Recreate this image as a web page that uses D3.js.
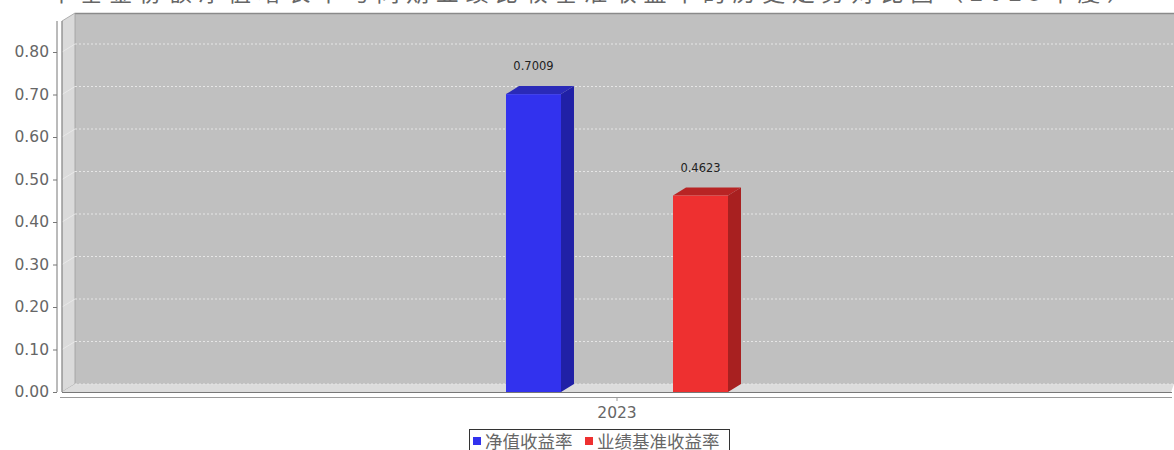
<!DOCTYPE html>
<html>
<head>
<meta charset="utf-8">
<script src="https://cdn.jsdelivr.net/npm/d3@7"></script>
<style>
	body{margin:0;background:#fff;overflow:hidden;}
	text{font-family:"DejaVu Sans", sans-serif;}
</style>
</head>
<body>
<div id="c-svg"></div>
<script>
//chart values
let chartTitle = "本基金份额净值增长率与同期业绩比较基准收益率的历史走势对比图（2023年度）";
let categories = ["2023"];
let seriesNames = ["净值收益率", "业绩基准收益率"];
let seriesValues = [0.7009, 0.4623];
let seriesColors = ["#3232ee", "#ee3030"];
let seriesSides = ["#2020a6", "#a82020"];
let seriesTops = ["#2a2ab8", "#b82424"];
let yTicks = [0, 0.1, 0.2, 0.3, 0.4, 0.5, 0.6, 0.7, 0.8];


function graph(){

	//sizing
	let width = 1174;
	let height = 450;
	let depth = {x:13, y:8};
	let margin = {top:21, right:13, bottom:58, left:62};

	let svg = d3.select("#c-svg")
		.append("svg")
		.attr("width", width)
		.attr("height", height);

	let left = margin.left;
	let right = width - margin.right;
	let bottom = height - margin.bottom;

	//scales
	const yScale = d3.scaleLinear()
		.domain([0, 0.8])
		.range([bottom, 52]);

	const xScale = d3.scaleBand()
		.domain(categories)
		.range([left, width - 2]);

	const xInner = d3.scaleBand()
		.domain(seriesNames)
		.range([-111, 111])
		.paddingInner(0.6707);

	//title (cut by the top of the picture)
	svg.append("text")
		.attr("x", 50)
		.attr("y", 0.5)
		.attr("textLength", 1080)
		.attr("lengthAdjust", "spacing")
		.style("font-family", "'Noto Sans CJK SC'")
		.style("font-size", "23px")
		.attr("fill", "#666")
		.text(chartTitle);

	//back wall
	svg.append("rect")
		.attr("x", left + depth.x)
		.attr("y", margin.top - depth.y)
		.attr("width", right - left)
		.attr("height", bottom - margin.top)
		.attr("fill", "#c0c0c0");

	svg.append("line")
		.attr("x1", left + depth.x).attr("x2", width)
		.attr("y1", margin.top - depth.y + 0.5).attr("y2", margin.top - depth.y + 0.5)
		.attr("stroke", "#8a8a8a")
		.attr("stroke-width", 1.5);

	//left wall & floor
	svg.append("polygon")
		.attr("points", [[left, margin.top], [left + depth.x, margin.top - depth.y],
			[left + depth.x, bottom - depth.y], [left, bottom]].join(" "))
		.attr("fill", "#dadada")
		.attr("stroke", "#a0a0a0")
		.attr("stroke-width", 0.8);

	svg.append("polygon")
		.attr("points", [[left, bottom], [left + depth.x, bottom - depth.y],
			[width, bottom - depth.y], [width - depth.x + 10, bottom]].join(" "))
		.attr("fill", "#dcdcdc");

	//grid lines
	let grid = svg.append("g").attr("class", "grid");

	grid.selectAll(".back")
		.data(yTicks.slice(1))
		.enter()
		.append("line")
		.attr("x1", left + depth.x)
		.attr("x2", width)
		.attr("y1", (d)=>{ return yScale(d) - depth.y; })
		.attr("y2", (d)=>{ return yScale(d) - depth.y; })
		.attr("stroke", "#e6e6e6")
		.attr("stroke-dasharray", "2,2");

	grid.selectAll(".side")
		.data(yTicks.slice(1))
		.enter()
		.append("line")
		.attr("x1", left)
		.attr("x2", left + depth.x)
		.attr("y1", (d)=>{ return yScale(d); })
		.attr("y2", (d)=>{ return yScale(d) - depth.y; })
		.attr("stroke", "#eeeeee")
		.attr("stroke-width", 0.7);

	svg.append("line")
		.attr("x1", left + depth.x).attr("x2", width)
		.attr("y1", bottom - depth.y).attr("y2", bottom - depth.y)
		.attr("stroke", "#e6e6e6")
		.attr("stroke-dasharray", "2,2");

	//bars
	let cx = xScale(categories[0]) + xScale.bandwidth() / 2;
	let bw = xInner.bandwidth();

	let bars = svg.selectAll(".bar")
		.data(seriesValues)
		.enter()
		.append("g")
		.attr("class", "bar");

	bars.append("polygon")
		.attr("points", (d, i)=>{
			let x0 = cx + xInner(seriesNames[i]) + bw;
			return [[x0, yScale(d)], [x0 + depth.x, yScale(d) - depth.y],
				[x0 + depth.x, bottom - depth.y], [x0, bottom]].join(" ");
		})
		.attr("fill", (d, i)=>{ return seriesSides[i]; });

	bars.append("polygon")
		.attr("points", (d, i)=>{
			let x0 = cx + xInner(seriesNames[i]);
			return [[x0, yScale(d)], [x0 + depth.x, yScale(d) - depth.y],
				[x0 + bw + depth.x, yScale(d) - depth.y], [x0 + bw, yScale(d)]].join(" ");
		})
		.attr("fill", (d, i)=>{ return seriesTops[i]; });

	bars.append("rect")
		.attr("x", (d, i)=>{ return cx + xInner(seriesNames[i]); })
		.attr("y", (d)=>{ return yScale(d); })
		.attr("width", bw)
		.attr("height", (d)=>{ return bottom - yScale(d); })
		.attr("fill", (d, i)=>{ return seriesColors[i]; });

	bars.append("text")
		.attr("x", (d, i)=>{ return cx + xInner(seriesNames[i]) + bw / 2; })
		.attr("y", (d)=>{ return yScale(d) - 24; })
		.attr("text-anchor", "middle")
		.style("font-size", "11.5px")
		.attr("fill", "#222")
		.text((d)=>{ return d3.format(".4f")(d); });

	//axes
	const yAxis = d3.axisLeft(yScale)
		.tickValues(yTicks)
		.tickFormat(d3.format(".2f"))
		.tickSize(4)
		.tickSizeOuter(0);

	let gy = svg.append("g")
		.attr("class", "axis y_axis")
		.attr("transform", "translate(57,0)")
		.call(yAxis);

	gy.select(".domain")
		.attr("stroke", "#777")
		.attr("d", `M0,${margin.top}V${bottom}`);
	gy.selectAll(".tick line").attr("stroke", "#777");
	gy.selectAll(".tick text")
		.attr("x", -8)
		.style("font-size", "15.5px")
		.style("font-family", "'DejaVu Sans'")
		.attr("fill", "#666");

	svg.append("line")
		.attr("x1", left).attr("x2", left)
		.attr("y1", margin.top).attr("y2", bottom)
		.attr("stroke", "#8a8a8a");

	svg.append("line")
		.attr("x1", left).attr("x2", width - depth.x + 11)
		.attr("y1", bottom + 0.5).attr("y2", bottom + 0.5)
		.attr("stroke", "#777");

	const xAxis = d3.axisBottom(xScale)
		.tickSize(4)
		.tickSizeOuter(0);

	let gx = svg.append("g")
		.attr("class", "axis x_axis")
		.attr("transform", `translate(0,${bottom + 5})`)
		.call(xAxis);

	gx.select(".domain")
		.attr("stroke", "#999")
		.attr("d", `M60,0.5H${width - 2}`);
	gx.selectAll(".tick line").attr("stroke", "#999");
	gx.selectAll(".tick text")
		.attr("y", 10)
		.style("font-size", "15.5px")
		.style("font-family", "'DejaVu Sans'")
		.attr("fill", "#666");

	//legend
	let legend = svg.append("g").attr("class", "legend");

	legend.append("rect")
		.attr("x", 469.5)
		.attr("y", 429.5)
		.attr("width", 260)
		.attr("height", 30)
		.attr("fill", "#fff")
		.attr("stroke", "#333");

	let legendX = [473, 585];

	seriesNames.forEach((name, i)=>{
		legend.append("rect")
			.attr("x", legendX[i])
			.attr("y", 437)
			.attr("width", 8)
			.attr("height", 8)
			.attr("fill", seriesColors[i]);

		legend.append("text")
			.attr("x", legendX[i] + 12)
			.attr("y", 448)
			.style("font-family", "'Noto Sans CJK SC'")
			.style("font-size", "17.5px")
			.attr("fill", "#666")
			.text(name);
	});

} //function graph


graph();
</script>
</body>
</html>
